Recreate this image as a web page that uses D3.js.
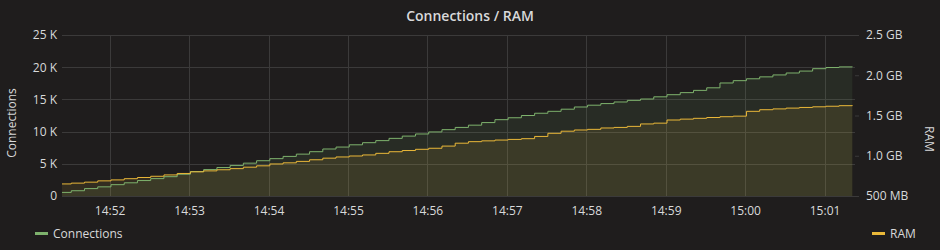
<!DOCTYPE html>
<html>
<head>
<meta charset="utf-8">
<script src="https://cdn.jsdelivr.net/npm/d3@7"></script>
<style>
  html, body { margin: 0; padding: 0; background: #1f1d1d; }
  svg { display: block; font-family: "Open Sans", "DejaVu Sans", sans-serif; }
</style>
</head>
<body>
<div id="chart"></div>
<script>
// sample times (every 10 s)
var times = [
  "14:51:21","14:51:31","14:51:41","14:51:51","14:52:01","14:52:11","14:52:21","14:52:31","14:52:41","14:52:51",
  "14:53:01","14:53:11","14:53:21","14:53:31","14:53:41","14:53:51","14:54:01","14:54:11","14:54:21","14:54:31",
  "14:54:41","14:54:51","14:55:01","14:55:11","14:55:21","14:55:31","14:55:41","14:55:51","14:56:01","14:56:11",
  "14:56:21","14:56:31","14:56:41","14:56:51","14:57:01","14:57:11","14:57:21","14:57:31","14:57:41","14:57:51",
  "14:58:01","14:58:11","14:58:21","14:58:31","14:58:41","14:58:51","14:59:01","14:59:11","14:59:21","14:59:31",
  "14:59:41","14:59:51","15:00:01","15:00:11","15:00:21","15:00:31","15:00:41","15:00:51","15:01:01","15:01:11",
  "15:01:21"
];

// Connections (count)
var connections = [
  560, 820, 1150, 1420, 1760, 2050, 2400, 2700, 3000, 3380,
  3800, 4100, 4420, 4750, 5100, 5480, 5800, 6150, 6500, 6880,
  7300, 7600, 7950, 8280, 8600, 8950, 9300, 9630, 9950, 10300,
  10650, 11000, 11400, 11850, 12150, 12500, 12850, 13150, 13480, 13820,
  14100, 14350, 14600, 14850, 15060, 15400, 15730, 16050, 16400, 16800,
  17550, 17910, 18200, 18500, 18800, 19100, 19400, 19770, 19950, 20050,
  20080
];

// RAM (GB)
var ram = [
  0.650, 0.660, 0.672, 0.688, 0.700, 0.715, 0.730, 0.745, 0.762, 0.780,
  0.800, 0.812, 0.826, 0.840, 0.858, 0.875, 0.898, 0.912, 0.930, 0.950,
  0.970, 0.985, 0.997, 1.010, 1.030, 1.050, 1.065, 1.080, 1.093, 1.120,
  1.156, 1.175, 1.185, 1.195, 1.203, 1.212, 1.240, 1.279, 1.305, 1.320,
  1.328, 1.345, 1.352, 1.365, 1.395, 1.405, 1.444, 1.455, 1.465, 1.475,
  1.485, 1.492, 1.552, 1.572, 1.582, 1.592, 1.600, 1.608, 1.615, 1.622,
  1.627
];

// axis ticks
var connTicks = [0, 5000, 10000, 15000, 20000, 25000];
var connTickLabels = ["0", "5 K", "10 K", "15 K", "20 K", "25 K"];
var ramTicks = [0.5, 1.0, 1.5, 2.0, 2.5];
var ramTickLabels = ["500 MB", "1.0 GB", "1.5 GB", "2.0 GB", "2.5 GB"];
var timeTicks = ["14:52","14:53","14:54","14:55","14:56","14:57","14:58","14:59","15:00","15:01"];

var width = 940, height = 250,
    plot = {left: 62, right: 855, top: 35, bottom: 196};

var parseTime = d3.timeParse("%H:%M:%S"),
    parseTick = d3.timeParse("%H:%M");

var data = times.map(function(t, i) {
  return {t: parseTime(t), c: connections[i], r: ram[i]};
});

var x = d3.scaleTime()
    .domain([parseTime("14:51:24"), parseTime("15:01:23")])
    .range([plot.left, plot.right]);

var yLeft = d3.scaleLinear().domain([0, 25000]).range([plot.bottom, plot.top]);
var yRight = d3.scaleLinear().domain([0.5, 2.5]).range([plot.bottom, plot.top]);

var svg = d3.select("#chart")
    .append("svg")
    .attr("width", width)
    .attr("height", height);

svg.append("rect").attr("width", width).attr("height", height).attr("fill", "#1f1d1d");

svg.append("clipPath").attr("id", "clip")
  .append("rect")
    .attr("x", plot.left).attr("y", plot.top)
    .attr("width", plot.right - plot.left).attr("height", plot.bottom - plot.top);

// title
svg.append("text")
    .attr("x", 470).attr("y", 21)
    .attr("text-anchor", "middle")
    .attr("fill", "#d8d9da")
    .style("font-size", "14px")
    .style("font-weight", 600)
    .text("Connections / RAM");

// grid
var gridColor = "#3b3a3a";
svg.append("g")
  .selectAll("line")
  .data(connTicks)
  .join("line")
    .attr("x1", plot.left).attr("x2", plot.right)
    .attr("y1", function(d) { return Math.round(yLeft(d)) + 0.5; })
    .attr("y2", function(d) { return Math.round(yLeft(d)) + 0.5; })
    .attr("stroke", gridColor);

svg.append("g")
  .selectAll("line")
  .data(timeTicks)
  .join("line")
    .attr("x1", function(d) { return Math.round(x(parseTick(d))) + 0.5; })
    .attr("x2", function(d) { return Math.round(x(parseTick(d))) + 0.5; })
    .attr("y1", plot.top).attr("y2", plot.bottom)
    .attr("stroke", gridColor);

// areas + lines
var series = [
  {key: "c", y: yLeft, color: "#7eb26d"},
  {key: "r", y: yRight, color: "#eab839"}
];

var plotG = svg.append("g").attr("clip-path", "url(#clip)");

series.forEach(function(s) {
  var area = d3.area()
      .curve(d3.curveStepAfter)
      .x(function(d) { return x(d.t); })
      .y0(plot.bottom)
      .y1(function(d) { return s.y(d[s.key]); });
  plotG.append("path")
      .datum(data)
      .attr("d", area)
      .attr("fill", s.color)
      .attr("fill-opacity", 0.1);
});

series.forEach(function(s) {
  var line = d3.line()
      .curve(d3.curveStepAfter)
      .x(function(d) { return x(d.t); })
      .y(function(d) { return s.y(d[s.key]); });
  plotG.append("path")
      .datum(data)
      .attr("d", line)
      .attr("fill", "none")
      .attr("stroke", s.color)
      .attr("stroke-width", 1);
});

// axes
var tickColor = "#d8d9da";

var leftAxis = svg.append("g")
    .attr("transform", "translate(" + (plot.left - 2) + ",0)")
    .call(d3.axisLeft(yLeft)
      .tickValues(connTicks)
      .tickSize(0)
      .tickPadding(3)
      .tickFormat(function(d, i) { return connTickLabels[i]; }));

var rightAxis = svg.append("g")
    .attr("transform", "translate(" + plot.right + ",0)")
    .call(d3.axisRight(yRight)
      .tickValues(ramTicks)
      .tickSize(4)
      .tickPadding(7)
      .tickFormat(function(d, i) { return ramTickLabels[i]; }));

var bottomAxis = svg.append("g")
    .attr("transform", "translate(0," + plot.bottom + ")")
    .call(d3.axisBottom(x)
      .tickValues(timeTicks.map(parseTick))
      .tickSize(0)
      .tickPadding(10)
      .tickFormat(d3.timeFormat("%H:%M")));

[leftAxis, rightAxis, bottomAxis].forEach(function(g) {
  g.select(".domain").remove();
  g.selectAll(".tick line").attr("stroke", gridColor);
  g.selectAll("text")
    .attr("fill", tickColor)
    .style("font-size", "12px")
    .style("font-family", "'Open Sans', 'DejaVu Sans', sans-serif");
});

// axis titles
svg.append("text")
    .attr("transform", "translate(16,123) rotate(-90)")
    .attr("text-anchor", "middle")
    .attr("fill", tickColor)
    .style("font-size", "12px")
    .text("Connections");

svg.append("text")
    .attr("transform", "translate(925,139) rotate(90)")
    .attr("text-anchor", "middle")
    .attr("fill", tickColor)
    .style("font-size", "12px")
    .text("RAM");

// legend
var legend = [
  {name: "Connections", color: "#7eb26d", x: 35, anchor: "start"},
  {name: "RAM", color: "#eab839", x: 872, anchor: "start"}
];

legend.forEach(function(l) {
  svg.append("rect")
      .attr("x", l.x).attr("y", 232)
      .attr("width", 13).attr("height", 3)
      .attr("fill", l.color);
  svg.append("text")
      .attr("x", l.x + 18).attr("y", 237.5)
      .attr("fill", tickColor)
      .style("font-size", "12px")
      .text(l.name);
});
</script>
</body>
</html>
